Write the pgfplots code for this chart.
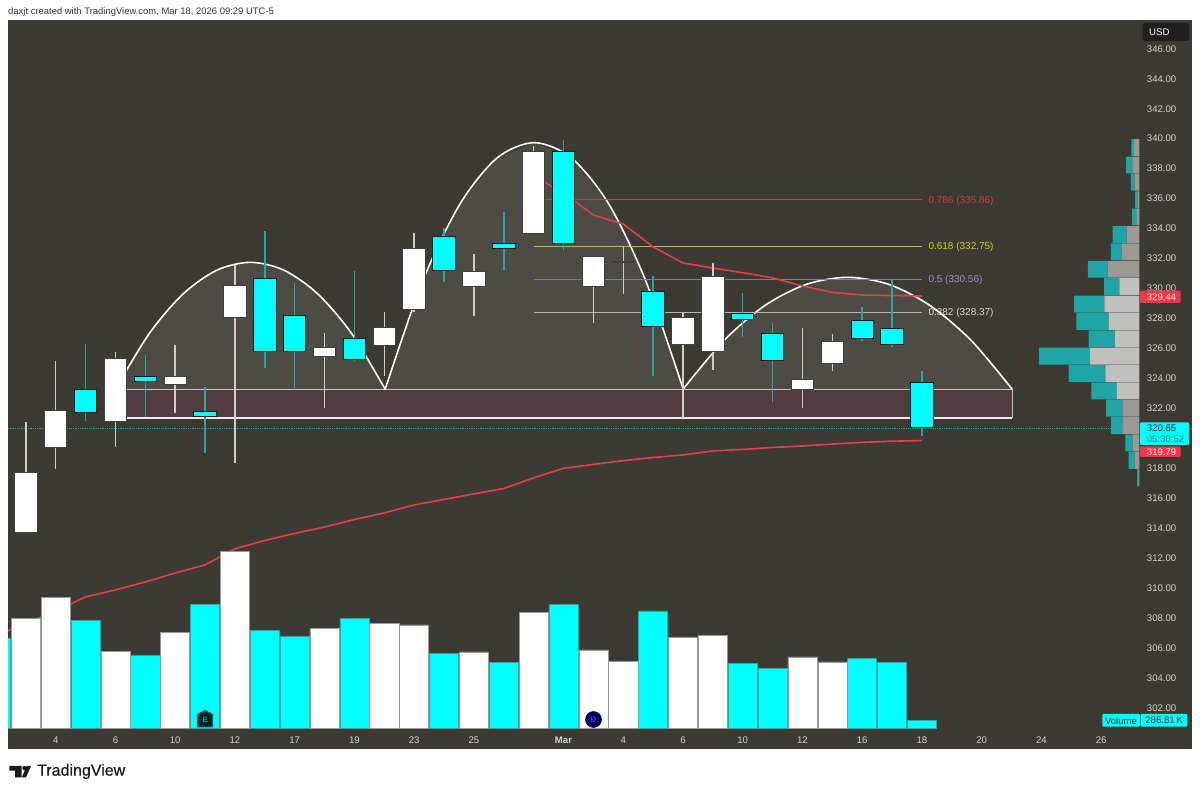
\documentclass[border=0pt]{standalone}
\usepackage{pgfplots}
\pgfplotsset{compat=1.18}
\usepackage{pgfplotstable}
\usepackage{fontspec}
\setmainfont{Liberation Sans}
\newfontfamily\tvlogo[FakeBold=0.5]{Liberation Sans}
\definecolor{panel}{HTML}{3C3A32}
\definecolor{tvcyan}{HTML}{00FFFF}
\definecolor{wickc}{HTML}{2FA3A5}
\definecolor{wickw}{HTML}{CFCEC8}
\definecolor{zone}{HTML}{533C3F}
\definecolor{mared}{HTML}{E0404F}
\definecolor{fibr}{HTML}{D03A4A}
\definecolor{fiby}{HTML}{BDB84A}
\definecolor{fibb}{HTML}{7A8298}
\definecolor{fibw}{HTML}{B8B6AE}
\definecolor{ticktxt}{HTML}{D4D4D0}
\definecolor{vpteal}{HTML}{1FA5A5}
\definecolor{vpdark}{HTML}{9B9994}
\definecolor{vplight}{HTML}{C0C0BE}
\definecolor{tagred}{HTML}{F23645}

% price panel: drawn shapes
\pgfplotstableread{
x y
3.00 323.22
4.13 326.93
5.26 329.57
6.39 331.16
7.52 331.69
8.65 331.16
9.78 329.57
10.91 326.93
12.03 323.22
}\arcA
\pgfplotstableread{
x y
12.03 323.22
13.28 330.42
14.53 335.57
15.77 338.65
17.02 339.68
18.27 338.65
19.52 335.57
20.76 330.42
22.01 323.22
}\arcB
\pgfplotstableread{
x y
22.00 323.22
23.38 326.49
24.75 328.82
26.13 330.22
27.51 330.69
28.89 330.22
30.26 328.82
31.64 326.49
33.02 323.22
}\arcC
% moving averages
\pgfplotstableread{
x y
17 337.46
18 336.32
19 334.85
20 334.25
21 332.72
22 331.65
23 331.31
24 331.00
25 330.65
26 330.11
27 329.68
28 329.51
29 329.47
30 329.44
}\maShort
\pgfplotstableread{
x y
-0.6 307.10
0 307.58
1 308.42
2 309.35
3 309.82
4 310.35
5 310.95
6 311.49
7 312.56
8 313.12
9 313.59
10 314.02
11 314.52
12 314.96
13 315.49
14 315.86
15 316.23
16 316.59
17 317.30
18 317.94
19 318.20
20 318.45
21 318.66
22 318.83
23 319.10
24 319.20
25 319.33
26 319.43
27 319.56
28 319.67
29 319.75
30 319.79
}\maLong
% volume (thousands)
\pgfplotstableread{
x v
-1 3073
2 3677
4 2506
6 4247
8 3359
9 3155
11 3769
14 2572
16 2253
18 4233
21 4017
24 2219
25 2048
28 2401
29 2265
30 286.81
}\volCyan
\pgfplotstableread{
x v
0 3769
1 4472
3 2642
5 3267
7 6043
10 3414
12 3598
13 3539
15 2617
17 3960
19 2686
20 2287
22 3107
23 3175
26 2447
27 2276
}\volWhite
% volume profile: price, dark grey, light grey, teal
\pgfplotstableread{
p dark light teal
339.35 5.3 0 2.7
338.19 7.0 0 6.3
337.03 4.7 0 3.7
335.87 2.0 0 2.3
334.71 2.3 0 5.0
333.55 12.7 0 14.0
332.39 17.7 0 10.7
331.23 31.7 0 19.7
330.07 0 20.0 15.3
328.91 0 35.0 30.3
327.75 0 30.7 32.3
326.59 0 24.3 26.3
325.43 0 49.3 51.0
324.27 0 34.0 36.7
323.11 0 22.7 25.3
321.95 17.0 0 16.3
320.79 17.0 0 11.3
319.63 6.7 0 7.3
318.47 4.7 0 6.0
317.31 1.0 0 1.3
}\vprofile

\newcommand{\candlebody}[4]{%
  \pgfmathsetmacro\xa{#1-0.375}\pgfmathsetmacro\xb{#1+0.375}%
  \edef\temp{\noexpand\addplot[#4] coordinates {(\xa,#2)(\xb,#2)(\xb,#3)(\xa,#3)} --cycle;}\temp}
% index, open, high, low, close
\newcommand{\candleW}[5]{%
  \addplot[wickw,line width=1.5pt] coordinates {(#1,#4)(#1,#3)};
  \candlebody{#1}{#2}{#5}{fill=white,draw=black!75,line width=0.9pt}}
\newcommand{\candleC}[5]{%
  \addplot[wickc,line width=1.5pt] coordinates {(#1,#4)(#1,#3)};
  \candlebody{#1}{#2}{#5}{fill=tvcyan,draw=black!75!teal,line width=0.9pt}}
\newcommand{\tsz}{\fontsize{9.6}{11}\selectfont}
\newcommand{\fsz}{\fontsize{10}{12}\selectfont}

\begin{document}
\begin{tikzpicture}
\path[use as bounding box,fill=white] (0,0) rectangle (1200pt,794pt);
\begin{axis}[
  at={(8pt,45pt)},anchor=south west,scale only axis,
  width=1184pt,height=729pt,
  xmin=-0.596,xmax=39.04,ymin=299.20,ymax=347.87,
  axis background/.style={fill=panel},
  axis line style={draw=none},
  major tick length=0pt,
  ytick={302,304,...,346},
  xtick={1,3,5,7,9,11,13,15,18,20,22,24,26,28,30,32,34,36},
  xticklabels={4,6,10,12,17,19,23,25,\textbf{Mar},4,6,10,12,16,18,20,24,26},
  ticklabel pos=right,
  xticklabel pos=lower,
  yticklabel style={/pgf/number format/.cd,fixed,fixed zerofill,precision=2,assume math mode=true,
    /tikz/.cd,anchor=west,inner sep=0pt,xshift=-45.3pt,yshift=-0.8pt,text=ticktxt,font=\tsz},
  xticklabel style={anchor=center,inner sep=0pt,yshift=9pt,text=ticktxt,font=\tsz},
]
% last price line
\addplot[wickc,line width=0.8pt,densely dotted] coordinates {(-0.596,320.62)(39.04,320.62)};
% zone
\addplot[fill=zone,draw=none] coordinates {(3,321.30)(33.02,321.30)(33.02,323.22)(3,323.22)} --cycle;
\addplot[draw=white!70!zone,line width=1.1pt] coordinates {(3,323.22)(33.02,323.22)};
\addplot[draw=white!90!zone,line width=1.1pt] coordinates {(3,321.30)(33.02,321.30)};
\addplot[draw=white!65!zone,line width=1.1pt] coordinates {(33.02,321.30)(33.02,323.22)};
\addplot[draw=white!90!zone,line width=1pt] coordinates {(22,321.30)(22,323.22)};
% cup arcs
\addplot[fill=white,fill opacity=0.09,draw=none] table {\arcA} --cycle;
\addplot[fill=white,fill opacity=0.09,draw=none] table {\arcB} --cycle;
\addplot[fill=white,fill opacity=0.09,draw=none] table {\arcC} --cycle;
\addplot[white,line width=1.6pt,smooth] table {\arcA};
\addplot[white,line width=1.6pt,smooth] table {\arcB};
\addplot[white,line width=1.6pt,smooth] table {\arcC};
% fibonacci levels
\addplot[fibr,line width=1.1pt] coordinates {(17,335.86)(30,335.86)} node[right,pos=1,inner sep=0pt,xshift=6pt,yshift=-0.6pt,font=\fsz,text=fibr] {0.786 (335.86)};
\addplot[fiby,line width=1.1pt] coordinates {(17,332.75)(30,332.75)} node[right,pos=1,inner sep=0pt,xshift=6pt,yshift=-0.6pt,font=\fsz,text=fiby!70!yellow] {0.618 (332.75)};
\addplot[fibb,line width=1.1pt] coordinates {(17,330.56)(30,330.56)} node[right,pos=1,inner sep=0pt,xshift=6pt,yshift=-0.6pt,font=\fsz,text=blue!15!fibb!70!white] {0.5 (330.56)};
\addplot[fibw,line width=1.1pt] coordinates {(17,328.37)(30,328.37)} node[right,pos=1,inner sep=0pt,xshift=6pt,yshift=-0.6pt,font=\fsz,text=white!85!black] {0.382 (328.37)};
% moving averages
\addplot[mared,line width=1.6pt] table {\maShort};
\addplot[mared,line width=1.6pt] table {\maLong};
% candles
\candleW{0}{313.69}{321.05}{313.69}{317.65}
\candleW{1}{319.30}{325.11}{317.88}{321.81}
\candleC{2}{323.19}{326.24}{321.10}{321.65}
\candleW{3}{321.05}{325.69}{319.38}{325.26}
\candleC{4}{324.08}{325.51}{321.35}{323.72}
\candleW{5}{323.57}{326.15}{321.65}{324.10}
\candleC{6}{321.75}{323.39}{318.98}{321.39}
\candleW{7}{327.98}{331.51}{318.32}{330.18}
\candleC{8}{330.60}{333.78}{324.66}{325.71}
\candleC{9}{328.13}{330.29}{323.17}{325.75}
\candleW{10}{325.42}{326.95}{321.99}{326.02}
\candleC{11}{326.59}{331.13}{325.11}{325.22}
\candleW{12}{326.15}{328.40}{324.10}{327.35}
\candleW{13}{328.56}{333.67}{328.40}{332.65}
\candleC{14}{333.40}{333.96}{330.40}{331.16}
\candleW{15}{330.09}{332.25}{328.11}{331.07}
\candleC{16}{332.94}{335.07}{331.18}{332.63}
\candleW{17}{333.63}{339.46}{333.63}{339.10}
\candleC{18}{339.10}{339.86}{332.52}{332.92}
\candleW{19}{330.07}{332.11}{327.66}{332.11}
\candleW{20}{331.69}{332.78}{329.56}{331.73}
\candleC{21}{329.73}{330.78}{324.10}{327.40}
\candleW{22}{326.24}{328.33}{321.28}{328.00}
\candleW{23}{325.77}{331.63}{324.50}{330.73}
\candleC{24}{328.29}{329.62}{326.69}{327.91}
\candleC{25}{326.97}{327.62}{322.37}{325.15}
\candleW{26}{323.22}{327.29}{321.97}{323.86}
\candleW{27}{324.97}{326.93}{324.42}{326.39}
\candleC{28}{327.80}{328.69}{326.44}{326.59}
\candleC{29}{327.26}{330.51}{326.06}{326.24}
\candleC{30}{323.70}{324.44}{320.10}{320.65}
\end{axis}
% volume
\begin{axis}[
  at={(8pt,65.5pt)},anchor=south west,scale only axis,hide axis,
  width=1184pt,height=708.5pt,
  xmin=-0.596,xmax=39.04,ymin=0,ymax=24188,
]
\addplot[ybar,bar width=29.1pt,bar shift=0pt,fill=tvcyan,draw=wickc,line width=0.6pt] table[x=x,y=v] {\volCyan};
\addplot[ybar,bar width=29.1pt,bar shift=0pt,fill=white,draw=black!40,line width=0.6pt] table[x=x,y=v] {\volWhite};
\end{axis}
% volume profile
\begin{axis}[
  at={(1020pt,45pt)},anchor=south west,scale only axis,hide axis,
  width=119.3pt,height=729pt,
  xmin=0,xmax=119.3,x dir=reverse,ymin=299.20,ymax=347.87,
  xbar stacked,bar width=16.8pt,
]
\addplot[fill=vpdark,draw=none] table[x=dark,y=p] {\vprofile};
\addplot[fill=vplight,draw=none] table[x=light,y=p] {\vprofile};
\addplot[fill=vpteal,draw=none] table[x=teal,y=p] {\vprofile};
\end{axis}
% overlays in reference pixels
\begin{scope}[shift={(0,794pt)},x=1pt,y=-1pt]
\fill[black!88,rounded corners=2pt] (1142.7,23) rectangle (1189.3,41);
\node[anchor=west,inner sep=0pt,text=white,font=\tsz] at (1149,32) {USD};
\fill[tagred,rounded corners=1pt] (1140,290.7) rectangle (1180.7,303);
\node[anchor=west,inner sep=0pt,text=white!90!tagred,font=\tsz] at (1146.7,297) {329.44};
\fill[tvcyan,rounded corners=1pt] (1140,422.3) rectangle (1189,445);
\node[anchor=west,inner sep=0pt,text=black!70!teal,font=\tsz] at (1146.7,428.5) {320.65};
\node[anchor=west,inner sep=0pt,text=teal,font=\tsz] at (1146.7,439) {05:30:52};
\fill[tagred,rounded corners=1pt] (1140,446.3) rectangle (1180.7,457);
\node[anchor=west,inner sep=0pt,text=white!90!tagred,font=\tsz] at (1146.7,451.8) {319.79};
\fill[tvcyan,rounded corners=1pt] (1102.3,714) rectangle (1140,726.7);
\fill[tvcyan,rounded corners=1pt] (1140.8,714) rectangle (1187.3,726.7);
\node[inner sep=0pt,text=black!65!teal,font=\tsz] at (1121,720.7) {Volume};
\node[inner sep=0pt,text=black!65!teal,font=\tsz] at (1164,720.7) {286.81\,K};
% earnings and dividend markers
\fill[black!70!teal,draw=teal!70!black,line width=1pt] (197.5,727) -- (197.5,714.5) -- (205,710.5) -- (212.5,714.5) -- (212.5,727) -- cycle;
\node[inner sep=0pt,text=teal!70!cyan,font=\fontsize{7.5}{9}\selectfont\bfseries] at (205,720) {E};
\fill[blue!30!black,draw=blue!45!black,line width=1pt] (593.5,719.5) circle (7.8);
\node[inner sep=0pt,text=blue!75!white,font=\fontsize{8}{9}\selectfont\bfseries] at (593.5,719.7) {D};
% header
\node[anchor=west,inner sep=0pt,text=black!80,font=\fontsize{9.45}{11}\selectfont] at (8,12) {daxjt created with TradingView.com, Mar 18, 2026 09:29 UTC-5};
% logo
\fill[black!90] (9.3,766) -- (21.5,766) -- (21.5,777.3) -- (15,777.3) -- (15,770.6) -- (9.3,770.6) -- cycle;
\fill[black!90] (24.6,768.2) circle (2.3);
\fill[black!90] (26.8,766) -- (31,766) -- (26,777.3) -- (21.8,777.3) -- cycle;
\node[anchor=west,inner sep=0pt,text=black!90,font=\tvlogo\fontsize{16}{18}\selectfont] at (37,771.5) {TradingView};
\end{scope}
\end{tikzpicture}
\end{document}
